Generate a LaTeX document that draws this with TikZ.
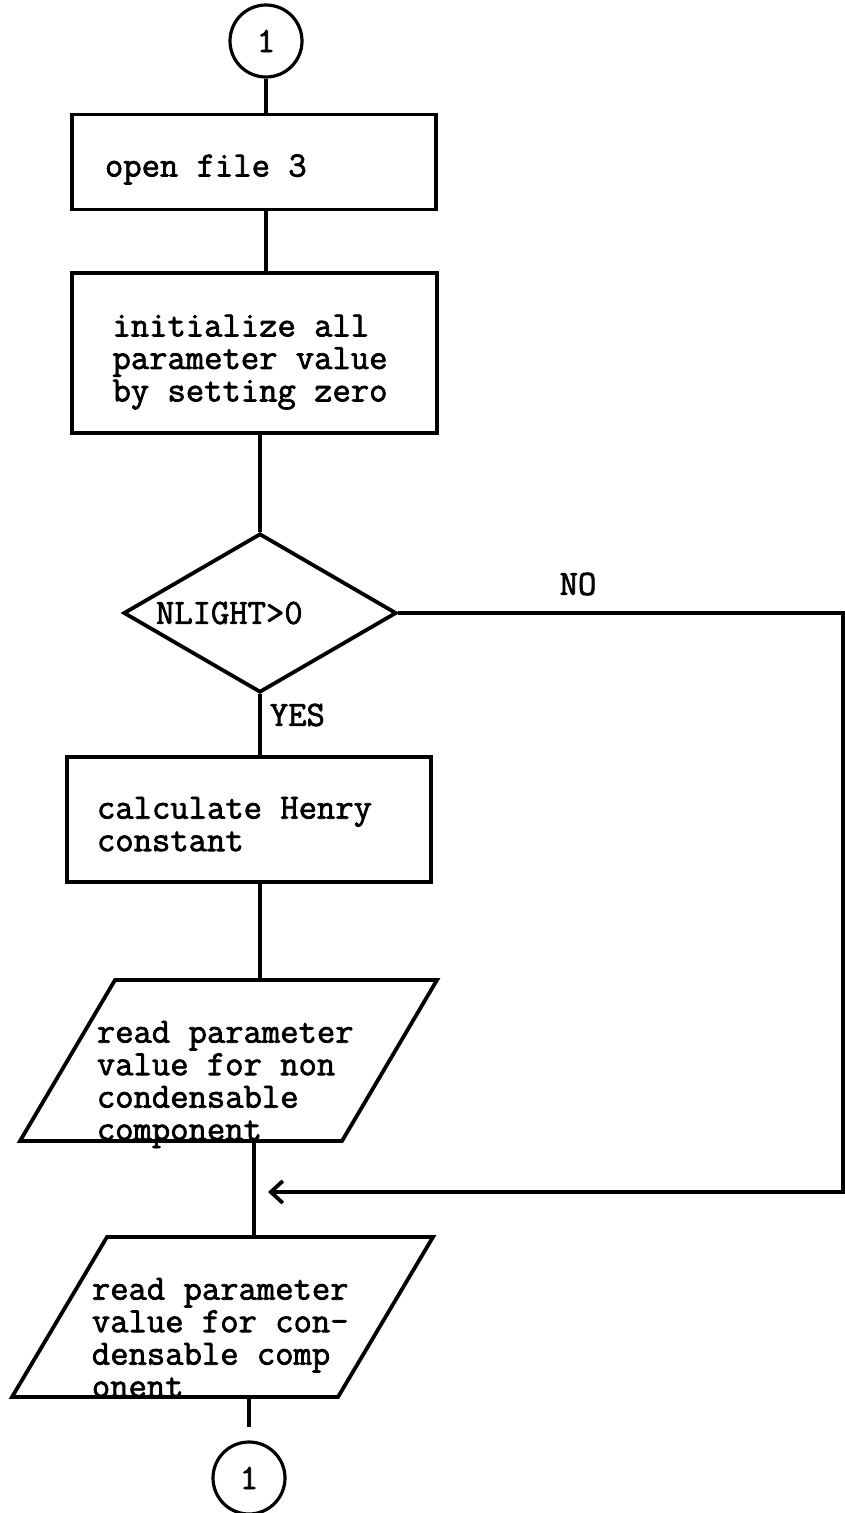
\documentclass[tikz,border=0pt]{standalone}
\usepackage{fontspec}
\newfontfamily\tw{Latin Modern Mono}[FakeBold=2]
\usetikzlibrary{shapes.geometric,arrows.meta}
\begin{document}
\begin{tikzpicture}[x=1pt,y=-1pt,line width=3.8pt,
  every node/.style={font=\tw\fontsize{35.6}{32.5}\selectfont,inner sep=0pt},
  conn/.style={draw,circle,minimum size=72pt,line width=3.2pt},
  procbox/.style={draw,rectangle,align=flush left},
  decision/.style={draw,diamond,aspect=1.72,align=flush left},
  iotext/.style={anchor=north west,align=left},
  tag/.style={anchor=west}]
\useasboundingbox (0,0) rectangle (845,1513);

% flow nodes (the struts push each box's text a little below centre)
\node[conn] (c1) at (266,41) {1};
\node[procbox,minimum width=364pt,minimum height=95pt,text width=298pt] (b1) at (254,162) {\rule{0pt}{37pt}open file 3};
\node[procbox,minimum width=365pt,minimum height=160pt,text width=284pt] (b2) at (254.5,353) {\rule{0pt}{40pt}initialize all\\parameter value\\by setting zero};
\node[decision,minimum width=273pt,minimum height=159pt,text width=208pt] (d) at (260,613) {NLIGHT>0};
\node[procbox,minimum width=364pt,minimum height=125pt,text width=304pt] (b3) at (249,819.5) {\rule{0pt}{31pt}calculate Henry\\constant};

% input/output parallelograms
\coordinate (p1nw) at (115,980);  \coordinate (p1ne) at (437,980);
\coordinate (p1se) at (342,1141); \coordinate (p1sw) at (20,1141);
\draw (p1nw) -- (p1ne) -- (p1se) -- (p1sw) -- cycle;
\node[iotext] (t1) at (95,1019) {read parameter\\value for non\\condensable\\component};

\coordinate (p2nw) at (107,1237); \coordinate (p2ne) at (433,1237);
\coordinate (p2se) at (338,1397); \coordinate (p2sw) at (12,1397);
\draw (p2nw) -- (p2ne) -- (p2se) -- (p2sw) -- cycle;
\node[iotext] (t2) at (90,1276) {read parameter\\value for con-\\densable comp\\onent};

\node[conn] (c2) at (249,1478) {1};

% branch labels
\node[tag] (yes) at (268,715) {YES};
\node (no) at (578,584) {NO};

% routing points
\coordinate (rr) at (843,1192);
\coordinate (tip) at (268,1192);
\coordinate (j) at (254,1192);
\coordinate (e2) at (249,1427);

% connectors
\draw (c1) -- (c1 |- b1.north);
\draw (c1 |- b1.south) -- (c1 |- b2.north);
\draw (d.north |- b2.south) -- (d.north);
\draw (d.south) -- (d.south |- b3.north);
\draw (d.south |- b3.south) -- (d.south |- p1nw);
\draw (j |- p1sw) -- (j |- p2nw);
\draw (e2 |- p2sw) -- (e2);
\draw[-{Straight Barb[length=12pt,width=22pt]}] (d.east) -| (rr) -- (tip);
\end{tikzpicture}
\end{document}
